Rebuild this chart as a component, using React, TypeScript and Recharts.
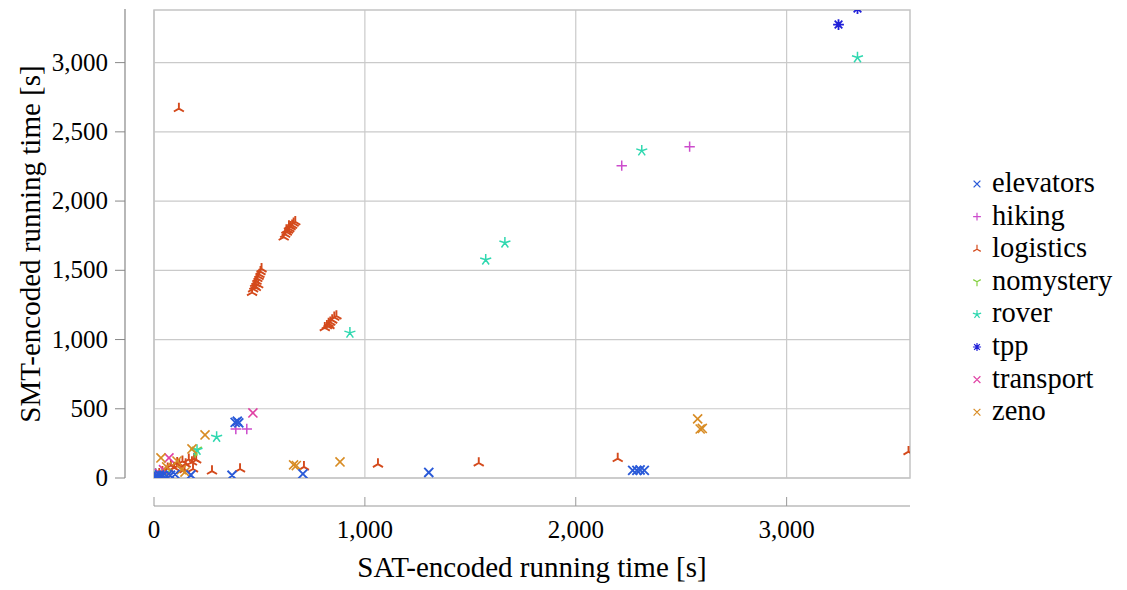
import { ScatterChart, Scatter, XAxis, YAxis, CartesianGrid, ReferenceArea } from 'recharts';

// [SAT time, SMT time] pairs per domain
const elevators = [
  [3, 4], [6, 12], [10, 2], [14, 16], [20, 8], [26, 22], [34, 12], [42, 18], [60, 14], [78, 20], [100, 26],
  [175, 22], [370, 20], [706, 30], [1303, 40], [2270, 55], [2290, 55], [2305, 58], [2325, 55],
  [385, 402], [395, 410], [402, 398],
];
const hiking = [[5, 5], [12, 10], [25, 18], [388, 354], [440, 354], [2218, 2256], [2540, 2393]];
const logistics = [
  [118, 2668],
  [465, 1340], [470, 1365], [476, 1385], [480, 1405], [483, 1375], [486, 1420], [490, 1440], [494, 1395],
  [496, 1455], [500, 1470], [505, 1490], [510, 1510],
  [615, 1740], [622, 1760], [628, 1790], [630, 1775], [636, 1790], [640, 1820], [642, 1800], [648, 1815],
  [655, 1825], [662, 1840], [670, 1850],
  [810, 1085], [820, 1100], [828, 1115], [832, 1100], [836, 1125], [845, 1140], [855, 1160], [865, 1170],
  [275, 50], [408, 65], [711, 80], [1062, 100], [1540, 108], [2199, 140], [3578, 190],
  [10, 15], [25, 30], [40, 45], [55, 40], [65, 70], [80, 90], [95, 75], [110, 110], [120, 95], [135, 120],
  [150, 100], [165, 135], [180, 115], [190, 140], [200, 130], [145, 60], [185, 65], [109, 87],
];
const nomystery = [[203, 203], [195, 190], [5, 8], [20, 25], [60, 40]];
const rover = [[929, 1048], [1573, 1576], [1664, 1699], [2313, 2364], [3336, 3037], [297, 296], [204, 202], [8, 30], [30, 15]];
const tpp = [[3246, 3275], [3336, 3391], [5, 3], [15, 8]];
const transport = [[469, 470], [71, 145], [10, 15], [25, 35], [45, 60], [30, 10]];
const zeno = [
  [2578, 427], [2590, 354], [2600, 358], [882, 116], [662, 95], [675, 90], [242, 311], [180, 210],
  [33, 145], [147, 43], [109, 123], [60, 80], [130, 60],
];

const xTicks = [0, 1000, 2000, 3000];
const yTicks = [0, 500, 1000, 1500, 2000, 2500, 3000];

const SERIES = [
  { name: 'elevators', data: elevators, kind: 'x', color: '#2a5ad8', sw: 1.9 },
  { name: 'hiking', data: hiking, kind: 'plus', color: '#cc4ccc', sw: 1.5 },
  { name: 'logistics', data: logistics, kind: 'triUp', color: '#d44a1c', sw: 1.9 },
  { name: 'nomystery', data: nomystery, kind: 'triDown', color: '#84d040', sw: 1.6 },
  { name: 'rover', data: rover, kind: 'star', color: '#30d8b0', sw: 1.5 },
  { name: 'tpp', data: tpp, kind: 'ast', color: '#2020d8', sw: 1.8 },
  { name: 'transport', data: transport, kind: 'x', color: '#e040a4', sw: 1.6 },
  { name: 'zeno', data: zeno, kind: 'x', color: '#d88c24', sw: 1.6 },
];

const RAYS: Record<string, number[]> = {
  x: [45, 135, 225, 315],
  plus: [0, 90, 180, 270],
  triUp: [90, 210, 330],
  triDown: [270, 30, 150],
  star: [90, 162, 234, 306, 18],
  ast: [0, 45, 90, 135, 180, 225, 270, 315],
};
const RADIUS: Record<string, number> = { x: 6.4, plus: 5.2, triUp: 5.8, triDown: 5.8, star: 5.8, ast: 5.4 };

function Marker({ kind, cx, cy, color, scale = 1, sw = 1.4 }: any) {
  const r = RADIUS[kind] * scale;
  const d = RAYS[kind]
    .map((a) => {
      const t = (a * Math.PI) / 180;
      return `M${cx},${cy}L${cx + r * Math.cos(t)},${cy - r * Math.sin(t)}`;
    })
    .join('');
  return <path d={d} stroke={color} strokeWidth={sw} fill="none" />;
}

const fmt = (v: number) => v.toLocaleString('en-US');
const FONT = "'Liberation Serif', 'Times New Roman', serif";

const XTick = ({ x, payload }: any) => (
  <g>
    <line x1={x} x2={x} y1={497} y2={506} stroke="#999" />
    <text x={x} y={538} textAnchor="middle" fontFamily={FONT} fontSize={25} fill="#000">{fmt(payload.value)}</text>
  </g>
);

const YTick = ({ y, payload }: any) => (
  <g>
    <line x1={115} x2={125} y1={y} y2={y} stroke="#888" />
    <text x={108} y={y + 8} textAnchor="end" fontFamily={FONT} fontSize={25} fill="#000">{fmt(payload.value)}</text>
  </g>
);

export default function App() {
  // elevators drawn last so its blue crosses sit on top of the origin cluster, like the original
  const drawOrder = [...SERIES.slice(1), SERIES[0]];
  return (
    <div style={{ position: 'relative', width: 1127, height: 590, background: '#fff' }}>
      <style>{'body{margin:0}'}</style>
      <ScatterChart width={1127} height={590} margin={{ top: 10, right: 217, bottom: 0, left: 0 }}>
        <CartesianGrid stroke="#cacaca" strokeWidth={1.2} horizontalValues={yTicks} verticalValues={xTicks} />
        <ReferenceArea x1={0} x2={3585} y1={0} y2={3380} fill="none" stroke="#c4c4c4" strokeWidth={1.5} ifOverflow="visible" />
        <XAxis type="number" dataKey="x" domain={[0, 3585]} ticks={xTicks} height={112} axisLine={false} tickLine={false}
          tick={(p: any) => <XTick {...p} />} allowDataOverflow interval={0} />
        <YAxis type="number" dataKey="y" domain={[0, 3380]} ticks={yTicks} width={154} axisLine={false} tickLine={false}
          tick={(p: any) => <YTick {...p} />} allowDataOverflow interval={0} />
        {drawOrder.map((s) => (
          <Scatter key={s.name} name={s.name} data={s.data.map(([x, y]) => ({ x, y }))} isAnimationActive={false}
            shape={(p: any) => <Marker kind={s.kind} cx={p.cx} cy={p.cy} color={s.color} sw={s.sw} />} />
        ))}
      </ScatterChart>
      <svg width={1127} height={590} style={{ position: 'absolute', left: 0, top: 0, pointerEvents: 'none' }}>
        <line x1={125} x2={125} y1={9} y2={478} stroke="#888" strokeWidth={1.2} />
        <line x1={154} x2={910} y1={506} y2={506} stroke="#999" strokeWidth={1.2} />
        <text x={532} y={577} textAnchor="middle" fontFamily={FONT} fontSize={29} fill="#000">SAT-encoded running time [s]</text>
        <text x={40} y={244} textAnchor="middle" fontFamily={FONT} fontSize={29} fill="#000" transform="rotate(-90 40 244)">
          SMT-encoded running time [s]
        </text>
        {SERIES.map((s, i) => {
          const cy = 184 + i * 32.6;
          return (
            <g key={s.name}>
              <Marker kind={s.kind} cx={977} cy={cy} color={s.color} scale={0.75} sw={1.2} />
              <text x={992} y={cy + 8} fontFamily={FONT} fontSize={28.5} fill="#000">{s.name}</text>
            </g>
          );
        })}
      </svg>
    </div>
  );
}
